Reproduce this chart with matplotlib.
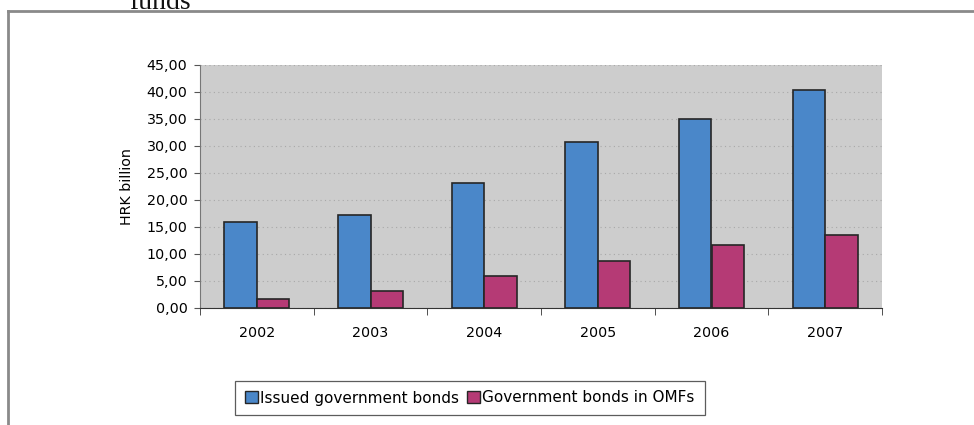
import matplotlib

matplotlib.use("Agg")
import matplotlib.pyplot as plt
import numpy as np
from matplotlib.lines import Line2D

years = ["2002", "2003", "2004", "2005", "2006", "2007"]
issued = [15.9, 17.2, 23.1, 30.6, 34.9, 40.3]
in_omfs = [1.6, 3.15, 5.9, 8.7, 11.6, 13.5]
series_names = ["Issued government bonds", "Government bonds in OMFs"]
yticks = [0, 5, 10, 15, 20, 25, 30, 35, 40, 45]

BLUE = "#4a87c9"
PINK = "#b53a75"
EDGE = "#262626"

plt.rcParams.update({"font.family": "DejaVu Sans", "font.size": 10})

fig = plt.figure(figsize=(9.74, 4.25), dpi=100)
ax = fig.add_axes([200 / 974, 0.2761, 682 / 974, 0.5718])
ax.set_facecolor("#cdcdcd")

x = np.arange(len(years))
w = 1 / 3.5
ax.bar(x - w / 2, issued, w, color=BLUE, edgecolor=EDGE, lw=1.2, zorder=3, label=series_names[0])
ax.bar(x + w / 2, in_omfs, w, color=PINK, edgecolor=EDGE, lw=1.2, zorder=3, label=series_names[1])

ax.set_xlim(-0.5, len(years) - 0.5)
ax.set_ylim(0, 45)
ax.set_yticks(yticks, labels=[f"{v:.2f}".replace(".", ",") for v in yticks], fontsize=10.3)
ax.set_xticks(x, labels=years, fontsize=10.3)
ax.set_xticks(np.arange(len(years) + 1) - 0.5, minor=True)
ax.tick_params(axis="x", which="major", length=0, pad=13)
ax.tick_params(axis="x", which="minor", length=5, color="#333333", direction="out")
ax.tick_params(axis="y", length=4, color="#555555", pad=5)
ax.yaxis.grid(True, ls=(0, (1, 3)), color="#a8a8a8", lw=0.8, zorder=1)
for s in ("top", "right"):
    ax.spines[s].set_visible(False)
ax.spines["left"].set_color("#777777")
ax.spines["bottom"].set_color("#333333")
ax.set_ylabel("HRK billion", fontsize=10.3, labelpad=9)

handles = [
    plt.Rectangle((0, 0), 1, 1, facecolor=BLUE, edgecolor=EDGE, lw=1),
    plt.Rectangle((0, 0), 1, 1, facecolor=PINK, edgecolor=EDGE, lw=1),
]
leg = fig.legend(
    handles,
    series_names,
    loc="center",
    bbox_to_anchor=(470 / 974, 1 - 398 / 425),
    ncol=2,
    fontsize=11,
    frameon=True,
    fancybox=False,
    edgecolor="#333333",
    handlelength=0.85,
    handleheight=0.85,
    handletextpad=0.15,
    columnspacing=0.5,
    borderpad=0.65,
    borderaxespad=0,
)
leg.get_frame().set_linewidth(0.9)

# page frame and cut-off heading from the surrounding document
fy = 1 - 11 / 425
fx = 8 / 974
fig.add_artist(Line2D([fx, fx], [0, fy], color="#8a8a8a", lw=2, transform=fig.transFigure))
fig.add_artist(Line2D([fx, 1], [fy, fy], color="#8a8a8a", lw=2, transform=fig.transFigure))
fig.text(129 / 974, 1 - 9 / 425, "funds", family="Liberation Serif", fontsize=20,
         va="baseline", ha="left", color="#111111")

fig.savefig("out.png", dpi=100)
